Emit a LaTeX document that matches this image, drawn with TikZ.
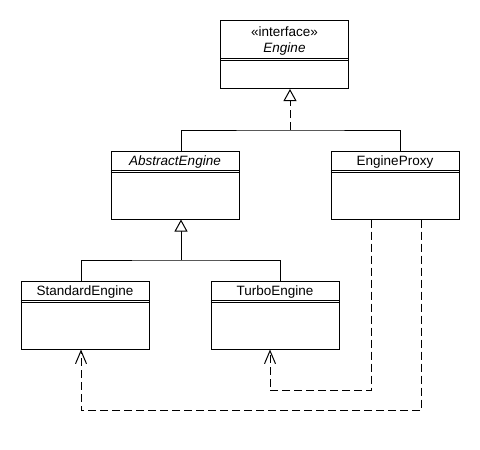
\documentclass[tikz,border=0pt]{standalone}
\usepackage{fontspec}
\setmainfont{Liberation Sans}
\usetikzlibrary{arrows.meta}
\usetikzlibrary{calc}

\tikzset{
  classbox/.style={draw, line width=1pt, minimum width=128pt, minimum height=68pt, inner sep=0pt},
  classname/.style={font=\fontsize{13.5}{16.5}\selectfont, align=center, inner sep=0pt},
  realize/.style={-{Triangle[open, fill=white, length=12pt, width=13pt]}, line width=1pt},
  depend/.style={-{Straight Barb[length=13pt, width=11pt]}, line width=1pt, dash pattern=on 8pt off 4pt}
}

\begin{document}
\begin{tikzpicture}[x=1pt, y=-1pt]
            \useasboundingbox (0,0) rectangle (480,450);
            \node[classbox] (engine) at (284.5,54.5) {};
            \node[classbox] (abstract) at (175,185) {};
            \node[classbox] (proxy) at (395,185) {};
            \node[classbox] (standard) at (85,315) {};
            \node[classbox] (turbo) at (275,315) {};
            \node[classname] (enginename) at ($(engine.north)+(0,21)$) {«interface»\\\textit{Engine}};
            \node[classname] (abstractname) at ($(abstract.north)+(0,12)$) {\textit{AbstractEngine}};
            \node[classname] (proxyname) at ($(proxy.north)+(0,12)$) {EngineProxy};
            \node[classname] (standardname) at ($(standard.north)+(0,12)$) {StandardEngine};
            \node[classname] (turboname) at ($(turbo.north)+(0,12)$) {TurboEngine};
            % compartments
            \foreach \c/\h in {engine/38, abstract/20, proxy/20, standard/20, turbo/20} {
              \draw[line width=1pt] ($(\c.north west)+(0,\h)$) -- ($(\c.north east)+(0,\h)$);
              \draw[line width=1pt] ($(\c.north west)+(0,\h+2)$) -- ($(\c.north east)+(0,\h+2)$);
            }
            \coordinate (join1) at (290,130);
            \coordinate (join2) at (181,260);
            \draw[realize, dash pattern=on 8pt off 4pt] (join1) -- (join1 |- engine.south);
            \draw[line width=1pt] ($(abstract.north)+(6,0)$) |- (join1) -| ($(proxy.north)+(5,0)$);
            \draw[realize] (join2) -- (join2 |- abstract.south);
            \draw[line width=1pt] ($(standard.north)+(-4,0)$) |- (join2) -| ($(turbo.north)+(5,0)$);
            \draw[depend] ($(proxy.south)+(-24,0)$) -- ++(0,171) -| ($(turbo.south)+(-5,0)$);
            \draw[depend] ($(proxy.south)+(26,0)$) -- ++(0,191) -| ($(standard.south)+(-4,0)$);
        \end{tikzpicture}
\end{document}
